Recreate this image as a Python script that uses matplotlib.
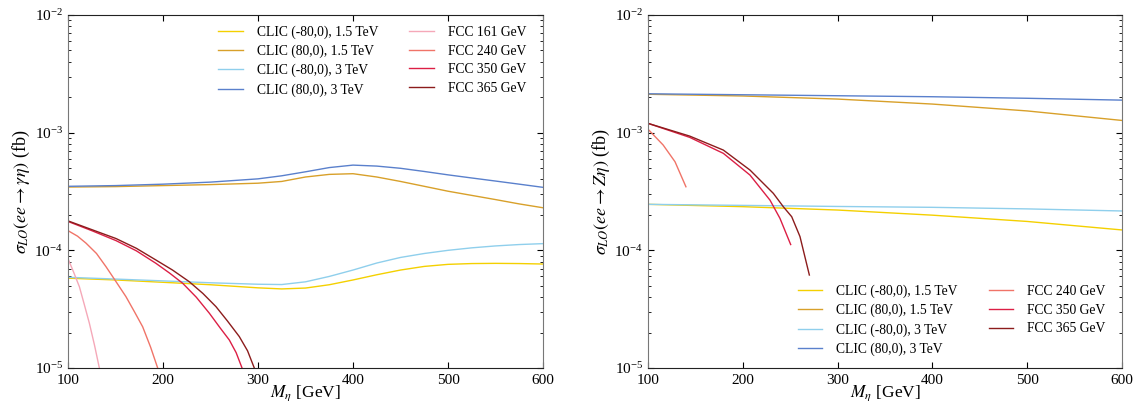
import numpy as np
import matplotlib
matplotlib.use("Agg")
import matplotlib.pyplot as plt
from matplotlib.ticker import LogLocator, NullFormatter, FixedLocator

plt.rcParams['font.family'] = ['Liberation Serif', 'DejaVu Serif']
plt.rcParams['mathtext.fontset'] = 'stix'

# ---- data (M_eta in GeV, sigma in fb) ----
# left panel: ee -> gamma eta
m_clic_l = [100, 150, 200, 250, 300, 325, 350, 375, 400, 425, 450, 475, 500, 525, 550, 575, 600]
clic_m80_15_l = [5.8e-5, 5.6e-5, 5.35e-5, 5.1e-5, 4.8e-5, 4.7e-5, 4.78e-5, 5.1e-5, 5.6e-5, 6.2e-5, 6.8e-5, 7.3e-5,
                 7.6e-5, 7.72e-5, 7.75e-5, 7.72e-5, 7.65e-5]
clic_p80_15_l = [3.45e-4, 3.48e-4, 3.55e-4, 3.62e-4, 3.72e-4, 3.85e-4, 4.2e-4, 4.42e-4, 4.48e-4, 4.2e-4, 3.85e-4, 3.5e-4,
                 3.18e-4, 2.93e-4, 2.7e-4, 2.48e-4, 2.3e-4]
clic_m80_3_l = [5.9e-5, 5.7e-5, 5.5e-5, 5.3e-5, 5.15e-5, 5.12e-5, 5.4e-5, 6.0e-5, 6.8e-5, 7.8e-5, 8.7e-5, 9.4e-5,
                1.0e-4, 1.05e-4, 1.09e-4, 1.12e-4, 1.14e-4]
clic_p80_3_l = [3.5e-4, 3.55e-4, 3.65e-4, 3.8e-4, 4.05e-4, 4.3e-4, 4.65e-4, 5.05e-4, 5.3e-4, 5.2e-4, 4.98e-4, 4.68e-4,
                4.38e-4, 4.12e-4, 3.88e-4, 3.65e-4, 3.43e-4]

m_fcc161_l = [100, 106, 112, 117, 122.5, 128, 133]
fcc161_l = [8.5e-5, 6.5e-5, 4.9e-5, 3.5e-5, 2.4e-5, 1.55e-5, 1.0e-5]
m_fcc240_l = [100, 110, 119, 130, 140, 150, 161, 170, 178.6, 187, 194.4]
fcc240_l = [1.47e-4, 1.32e-4, 1.15e-4, 9.4e-5, 7.26e-5, 5.5e-5, 4.04e-5, 3.0e-5, 2.24e-5, 1.5e-5, 1.0e-5]
m_fcc350_l = [100, 125, 150.5, 172, 192.6, 207, 220.7, 235, 248.8, 260, 269.8, 277, 283.2]
fcc350_l = [1.76e-4, 1.47e-4, 1.21e-4, 9.9e-5, 7.75e-5, 6.4e-5, 5.25e-5, 4.0e-5, 2.92e-5, 2.2e-5, 1.73e-5, 1.35e-5, 1.0e-5]
m_fcc365_l = [100, 125, 150.5, 172, 192.6, 210, 227.7, 242, 255.8, 268, 280.3, 289, 296.1]
fcc365_l = [1.78e-4, 1.5e-4, 1.26e-4, 1.04e-4, 8.27e-5, 6.8e-5, 5.41e-5, 4.3e-5, 3.32e-5, 2.5e-5, 1.85e-5, 1.4e-5, 1.0e-5]

# right panel: ee -> Z eta
m_clic_r = [100, 200, 300, 400, 500, 600]
clic_m80_15_r = [2.46e-4, 2.35e-4, 2.2e-4, 1.99e-4, 1.76e-4, 1.49e-4]
clic_p80_15_r = [2.12e-3, 2.05e-3, 1.93e-3, 1.75e-3, 1.53e-3, 1.27e-3]
clic_m80_3_r = [2.46e-4, 2.41e-4, 2.36e-4, 2.32e-4, 2.25e-4, 2.16e-4]
clic_p80_3_r = [2.14e-3, 2.1e-3, 2.06e-3, 2.02e-3, 1.96e-3, 1.89e-3]

m_fcc240_r = [100, 116, 128.5, 140]
fcc240_r = [1.07e-3, 7.85e-4, 5.66e-4, 3.47e-4]
m_fcc350_r = [100, 144, 179.5, 207.6, 228.7, 239.2, 250.5]
fcc350_r = [1.2e-3, 9.12e-4, 6.67e-4, 4.36e-4, 2.67e-4, 1.87e-4, 1.12e-4]
m_fcc365_r = [100, 144, 179.5, 207.6, 232.2, 242.7, 251.6, 260.3, 270.2]
fcc365_r = [1.2e-3, 9.35e-4, 7.11e-4, 4.81e-4, 3.05e-4, 2.35e-4, 1.93e-4, 1.31e-4, 6.17e-5]

colors = {
    'clic_m80_15': '#f4d000',
    'clic_p80_15': '#d8a02a',
    'clic_m80_3': '#8fcfec',
    'clic_p80_3': '#5a80cc',
    'fcc161': '#f5a8b8',
    'fcc240': '#f07468',
    'fcc350': '#dc1f45',
    'fcc365': '#8c1c1c',
}


def style_axes(ax, ylabel):
    ax.set_yscale('log')
    ax.set_xlim(100, 600)
    ax.set_ylim(1e-5, 1e-2)
    ax.xaxis.set_major_locator(FixedLocator([100, 200, 300, 400, 500, 600]))
    ax.yaxis.set_major_locator(LogLocator(base=10, numticks=10))
    ax.yaxis.set_minor_locator(LogLocator(base=10, subs=np.arange(2, 10), numticks=20))
    ax.yaxis.set_minor_formatter(NullFormatter())
    ax.tick_params(which='both', direction='in', top=True, right=True, labelsize=11)
    ax.tick_params(axis='x', pad=4)
    ax.tick_params(which='major', length=4, width=0.8)
    ax.tick_params(which='minor', length=2, width=0.6)
    for s in ['left', 'right']:
        ax.spines[s].set_color('#777777')
    for s in ['top', 'bottom']:
        ax.spines[s].set_color('#222222')
    ax.set_xlabel(r'$M_{\eta}$ [GeV]', fontsize=12.5, labelpad=-2)
    ax.set_ylabel(ylabel, fontsize=13, labelpad=2)


fig = plt.figure(figsize=(11.37, 4.07), dpi=100)
ax1 = fig.add_axes([68 / 1137, 1 - 368 / 407, 475 / 1137, 353 / 407])
ax2 = fig.add_axes([648 / 1137, 1 - 368 / 407, 474 / 1137, 353 / 407])

lw = 1.0
ax1.plot(m_clic_l, clic_m80_15_l, color=colors['clic_m80_15'], lw=lw, label='CLIC (-80,0), 1.5 TeV')
ax1.plot(m_clic_l, clic_p80_15_l, color=colors['clic_p80_15'], lw=lw, label='CLIC (80,0), 1.5 TeV')
ax1.plot(m_clic_l, clic_m80_3_l, color=colors['clic_m80_3'], lw=lw, label='CLIC (-80,0), 3 TeV')
ax1.plot(m_clic_l, clic_p80_3_l, color=colors['clic_p80_3'], lw=lw, label='CLIC (80,0), 3 TeV')
ax1.plot(m_fcc161_l, fcc161_l, color=colors['fcc161'], lw=lw, label='FCC 161 GeV')
ax1.plot(m_fcc240_l, fcc240_l, color=colors['fcc240'], lw=lw, label='FCC 240 GeV')
ax1.plot(m_fcc350_l, fcc350_l, color=colors['fcc350'], lw=lw, label='FCC 350 GeV')
ax1.plot(m_fcc365_l, fcc365_l, color=colors['fcc365'], lw=lw, label='FCC 365 GeV')
style_axes(ax1, r'$\sigma_{LO}(ee \rightarrow \gamma\eta)$ (fb)')
ax1.legend(loc='upper right', ncol=2, frameon=False, fontsize=9.8,
           handlelength=1.8, columnspacing=2.3, handletextpad=1.0,
           labelspacing=0.42, bbox_to_anchor=(0.99, 1.005))

ax2.plot(m_clic_r, clic_m80_15_r, color=colors['clic_m80_15'], lw=lw, label='CLIC (-80,0), 1.5 TeV')
ax2.plot(m_clic_r, clic_p80_15_r, color=colors['clic_p80_15'], lw=lw, label='CLIC (80,0), 1.5 TeV')
ax2.plot(m_clic_r, clic_m80_3_r, color=colors['clic_m80_3'], lw=lw, label='CLIC (-80,0), 3 TeV')
ax2.plot(m_clic_r, clic_p80_3_r, color=colors['clic_p80_3'], lw=lw, label='CLIC (80,0), 3 TeV')
ax2.plot(m_fcc240_r, fcc240_r, color=colors['fcc240'], lw=lw, label='FCC 240 GeV')
ax2.plot(m_fcc350_r, fcc350_r, color=colors['fcc350'], lw=lw, label='FCC 350 GeV')
ax2.plot(m_fcc365_r, fcc365_r, color=colors['fcc365'], lw=lw, label='FCC 365 GeV')
style_axes(ax2, r'$\sigma_{LO}(ee \rightarrow Z\eta)$ (fb)')
ax2.legend(loc='lower right', ncol=2, frameon=False, fontsize=9.8,
           handlelength=1.8, columnspacing=2.3, handletextpad=1.0,
           labelspacing=0.42, bbox_to_anchor=(0.99, 0.0))

fig.savefig('out.png', dpi=100)
